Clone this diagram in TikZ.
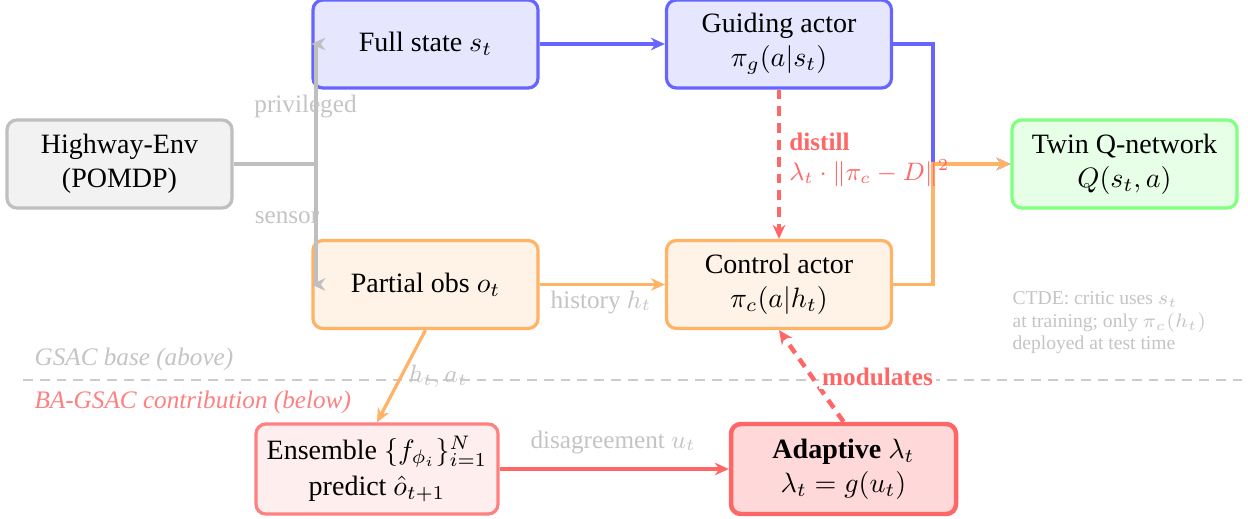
\documentclass[tikz,border=0pt]{standalone}
\usepackage[no-math]{fontspec}
\setmainfont{Liberation Serif}
\usetikzlibrary{arrows.meta}
\definecolor{bluebd}{HTML}{6666FF}
\definecolor{bluefill}{HTML}{E6E6FF}
\definecolor{orangebd}{HTML}{FFB366}
\definecolor{orangefill}{HTML}{FFF2E6}
\definecolor{greenbd}{HTML}{80FF80}
\definecolor{greenfill}{HTML}{E6FFE6}
\definecolor{graybd}{HTML}{BFBFBF}
\definecolor{grayfill}{HTML}{F2F2F2}
\definecolor{redbd}{HTML}{FF6666}
\definecolor{ensbd}{HTML}{FF8080}
\definecolor{ensfill}{HTML}{FFEEEE}
\definecolor{adfill}{HTML}{FFD9D9}
\definecolor{labelgray}{HTML}{C4C4C4}
\definecolor{sepgray}{HTML}{CCCCCC}
\begin{document}
\begin{tikzpicture}[x=0.357143pt,y=-0.357143pt,
  box/.style={draw, rounded corners=3.5pt, line width=1.15pt, align=center,
    minimum width=225*0.357143pt, minimum height=88*0.357143pt, inner sep=2pt},
  envbox/.style={box, draw=graybd, fill=grayfill},
  bluebox/.style={box, draw=bluebd, fill=bluefill},
  orangebox/.style={box, draw=orangebd, fill=orangefill},
  greenbox/.style={box, draw=greenbd, fill=greenfill},
  ensbox/.style={box, draw=ensbd, fill=ensfill, minimum width=242*0.357143pt, minimum height=90*0.357143pt},
  adbox/.style={box, draw=redbd, fill=adfill, line width=1.6pt, minimum width=225*0.357143pt, minimum height=90*0.357143pt},
  tip/.style={-{Stealth[length=5pt,width=4.5pt]}},
  grayline/.style={draw=graybd, line width=1.15pt},
  bluearrow/.style={tip, draw=bluebd, line width=1.15pt},
  orangearrow/.style={tip, draw=orangebd, line width=1.15pt},
  redarrow/.style={tip, draw=redbd, line width=1.15pt},
  distillarrow/.style={tip, draw=redbd, line width=1.15pt, dash pattern=on 3.5pt off 2.5pt},
  modarrow/.style={tip, draw=redbd, line width=1.6pt, dash pattern=on 3.5pt off 2.5pt},
  lbl/.style={font=\small, text=labelgray, inner sep=1pt},
  redlbl/.style={font=\small\bfseries, text=redbd, inner sep=1pt},
  sepline/.style={draw=sepgray, line width=0.8pt, dash pattern=on 3.5pt off 2.5pt}
]
\useasboundingbox (0,0) rectangle (1248,518);

% nodes
\node[envbox] (env) at (119.5,164) {Highway-Env\\(POMDP)};
\node[bluebox] (full) at (425.5,44) {Full state $s_t$};
\node[bluebox] (guide) at (779,44) {Guiding actor\\$\pi_g(a|s_t)$};
\node[greenbox] (twin) at (1124.5,164) {Twin Q-network\\$Q(s_t,a)$};
\node[orangebox] (partial) at (425.5,284.5) {Partial obs $o_t$};
\node[orangebox] (control) at (779,284.5) {Control actor\\$\pi_c(a|h_t)$};
\node[ensbox] (ens) at (377,469) {Ensemble $\{f_{\phi_i}\}_{i=1}^N$\\[1pt]predict $\hat{o}_{t+1}$};
\node[adbox] (adapt) at (843.5,469) {\textbf{Adaptive} $\lambda_t$\\$\lambda_t = g(u_t)$};

% separator
\coordinate (sepL) at (23,380);
\coordinate (sepR) at (1245,380);
\draw[sepline] (sepL) -- (sepR);
\node[font=\small\itshape, text=labelgray, anchor=west, inner sep=0pt] (gsac) at (34,359) {GSAC base (above)};
\node[font=\small\itshape, text=ensbd, anchor=west, inner sep=0pt] (bagsac) at (34,402) {BA-GSAC contribution (below)};

% environment branches
\coordinate (split) at (316,164);
\draw[grayline] (env.east) -- (split);
\draw[grayline, tip] (split) |- (full.west);
\draw[grayline, tip] (split) |- (partial.west);
\node[lbl] (priv) at (305.5,106) {privileged};
\node[lbl] (sens) at (287,218) {sensor};

% top flow
\draw[bluearrow] (full.east) -- (guide.west);
\coordinate (jq) at (933,164);
\draw[bluearrow] (guide.east) -| (jq) -- (twin.west);
\draw[orangearrow] (control.east) -| (jq) -- (twin.west);

% distill
\draw[distillarrow] (guide.south) -- (control.north);
\node[redlbl, anchor=west, align=left, font=\small] (dist) at (786,160)
  {\textbf{distill}\\$\lambda_t\cdot\|\pi_c - D\|^2$};

% partial obs flows
\draw[orangearrow] (partial.east) -- (control.west);
\node[lbl] (hist) at (601,302) {history $h_t$};
\draw[orangearrow] (partial.south) -- (ens.north);
\node[lbl] (ha) at (438,376) {$h_t, a_t$};

% bottom flow
\draw[redarrow] (ens.east) -- (adapt.west);
\node[lbl] (dis) at (613,442) {disagreement $u_t$};
\draw[modarrow] (adapt.north) -- (control.south);
\node[redlbl, fill=white] (mod) at (877.5,377) {modulates};

% CTDE note
\node[font=\scriptsize, text=labelgray, anchor=west, align=left, inner sep=0pt] (ctde) at (1012,323)
  {CTDE: critic uses $s_t$\\at training; only $\pi_c(h_t)$\\deployed at test time};
\end{tikzpicture}
\end{document}
